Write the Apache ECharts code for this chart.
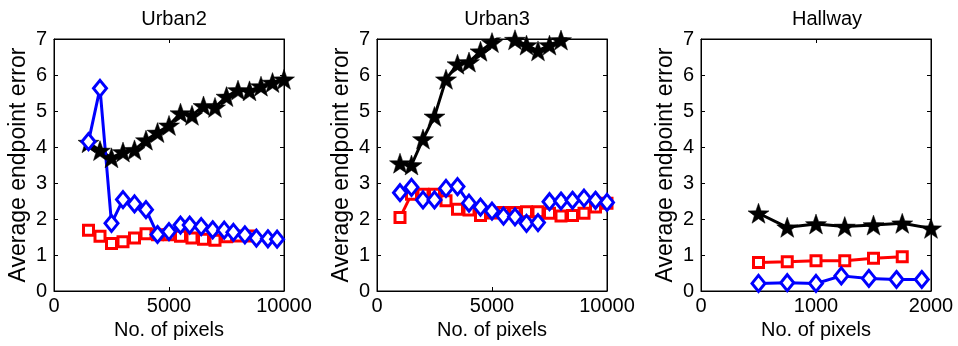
<!DOCTYPE html>
<html>
<head>
<meta charset="utf-8">
<script src="https://cdn.jsdelivr.net/npm/echarts@6/dist/echarts.min.js"></script>
<style>
  html, body { margin: 0; background: #fff; }
  #chart { width: 958px; height: 346px; }
</style>
</head>
<body>
<div id="chart"></div>
<script>
// panel titles and axis names
const panelTitles = ["Urban2", "Urban3", "Hallway"];
const xAxisName = "No. of pixels";
const yAxisName = "Average endpoint error";
const xMaxima = [10000, 10000, 2000];
const xIntervals = [5000, 5000, 1000];

// Urban2
const urban2StarX = [1500, 2000, 2500, 3000, 3500, 4000, 4500, 5000, 5500, 6000, 6500, 7000, 7500, 8000, 8500, 9000, 9500, 10000];
const urban2Star = [4.12, 3.9, 3.7, 3.86, 3.92, 4.19, 4.4, 4.6, 4.94, 4.88, 5.14, 5.1, 5.4, 5.58, 5.56, 5.69, 5.79, 5.88];
const urban2SquareX = [1500, 2000, 2500, 3000, 3500, 4000, 4500, 5000, 5500, 6000, 6500, 7000, 7500, 8000, 8500];
const urban2Square = [1.69, 1.52, 1.32, 1.37, 1.47, 1.59, 1.56, 1.56, 1.52, 1.47, 1.44, 1.41, 1.51, 1.53, 1.53];
const urban2DiamondX = [1500, 2000, 2500, 3000, 3500, 4000, 4500, 5000, 5500, 5900, 6400, 6900, 7400, 7800, 8300, 8800, 9300, 9700];
const urban2Diamond = [4.15, 5.63, 1.88, 2.54, 2.42, 2.26, 1.57, 1.65, 1.83, 1.83, 1.79, 1.7, 1.69, 1.63, 1.56, 1.47, 1.45, 1.44];

// Urban3 (star values above 7 fall outside the axes)
const urban3X = [1000, 1500, 2000, 2500, 3000, 3500, 4000, 4500, 5000, 5500, 6000, 6500, 7000, 7500, 8000, 8500, 9000, 9500, 10000];
const urban3Star = [3.55, 3.5, 4.22, 4.85, 5.88, 6.3, 6.36, 6.66, 6.9, 7.15, 6.98, 6.83, 6.67, 6.83, 6.97, 7.2, 7.3, 7.4, 7.5];
const urban3Square = [2.04, 2.69, 2.69, 2.69, 2.51, 2.27, 2.25, 2.1, 2.17, 2.18, 2.18, 2.2, 2.2, 2.16, 2.08, 2.1, 2.16, 2.33, 2.44];
const urban3Diamond = [2.73, 2.88, 2.53, 2.53, 2.85, 2.9, 2.44, 2.33, 2.22, 2.08, 2.06, 1.88, 1.9, 2.48, 2.5, 2.52, 2.58, 2.52, 2.46];

// Hallway
const hallStarX = [500, 750, 1000, 1250, 1500, 1750, 2000];
const hallStar = [2.16, 1.77, 1.86, 1.79, 1.83, 1.88, 1.74];
const hallSquareX = [500, 750, 1000, 1250, 1500, 1750];
const hallSquare = [0.79, 0.81, 0.84, 0.84, 0.91, 0.95];
const hallDiamondX = [500, 750, 1000, 1220, 1460, 1700, 1920];
const hallDiamond = [0.21, 0.23, 0.21, 0.42, 0.35, 0.32, 0.32];

const FONT = "'Liberation Sans', Arial, sans-serif";
const FONT_SIZE = 20;
const STAR = "path://M0,-10L2.35,-3.24L9.51,-3.09L3.8,1.24L5.88,8.09L0,4L-5.88,8.09L-3.8,1.24L-9.51,-3.09L-2.35,-3.24Z";

const gridLefts = [54, 377, 701];

function pairs(xs, ys) {
  return xs.map((x, i) => [x, ys[i]]);
}

function starSeries(idx, data) {
  return {
    type: "line", xAxisIndex: idx * 2, yAxisIndex: idx * 2, data, clip: true,
    symbol: STAR, symbolSize: 21, symbolKeepAspect: true,
    lineStyle: { color: "#000", width: 3 },
    itemStyle: { color: "#000", borderColor: "#000", borderWidth: 0.5 }
  };
}

function squareSeries(idx, data) {
  return {
    type: "line", xAxisIndex: idx * 2, yAxisIndex: idx * 2, data, clip: true,
    symbol: "rect", symbolSize: 10,
    lineStyle: { color: "#ff0000", width: 3 },
    itemStyle: { color: "#fff", borderColor: "#ff0000", borderWidth: 3 }
  };
}

function diamondSeries(idx, data) {
  return {
    type: "line", xAxisIndex: idx * 2, yAxisIndex: idx * 2, data, clip: true,
    symbol: "diamond", symbolSize: [13, 16],
    lineStyle: { color: "#0000ff", width: 3 },
    itemStyle: { color: "#fff", borderColor: "#0000ff", borderWidth: 3 }
  };
}

const chart = echarts.init(document.getElementById("chart"), null, { renderer: "canvas" });

const grids = gridLefts.map((left) => ({
  left, top: 39, width: 230, height: 252,
  show: true, borderColor: "#000", borderWidth: 1, backgroundColor: "#fff"
}));

const tick = { show: true, inside: true, length: 4, lineStyle: { color: "#000", width: 1 } };
const line = { show: true, onZero: false, lineStyle: { color: "#000", width: 1 } };
const labelText = { color: "#000", fontFamily: FONT, fontSize: FONT_SIZE };
const plain = (v) => String(v);

const xAxes = [];
const yAxes = [];
gridLefts.forEach((_, i) => {
  xAxes.push({
    gridIndex: i, type: "value", min: 0, max: xMaxima[i], interval: xIntervals[i],
    axisLine: line, axisTick: tick, splitLine: { show: false },
    axisLabel: Object.assign({ margin: 5, formatter: plain }, labelText),
    name: xAxisName, nameLocation: "middle", nameGap: 27,
    nameTextStyle: labelText
  });
  xAxes.push({
    gridIndex: i, type: "value", position: "top", min: 0, max: xMaxima[i], interval: xIntervals[i],
    axisLine: line, axisTick: tick, splitLine: { show: false }, axisLabel: { show: false }
  });
  yAxes.push({
    gridIndex: i, type: "value", min: 0, max: 7, interval: 1,
    axisLine: line, axisTick: tick, splitLine: { show: false },
    axisLabel: Object.assign({ margin: 7, formatter: plain }, labelText),
    name: yAxisName, nameLocation: "middle", nameGap: 24, nameRotate: 90,
    nameTextStyle: { color: "#000", fontFamily: FONT, fontSize: 23 }
  });
  yAxes.push({
    gridIndex: i, type: "value", position: "right", min: 0, max: 7, interval: 1,
    axisLine: line, axisTick: tick, splitLine: { show: false }, axisLabel: { show: false }
  });
});

chart.setOption({
  animation: false,
  backgroundColor: "#fff",
  title: panelTitles.map((text, i) => ({
    text, left: gridLefts[i] + 115 + (i === 2 ? 6 : 0), top: 4, textAlign: "center",
    textStyle: { color: "#000", fontFamily: FONT, fontSize: FONT_SIZE, fontWeight: "normal" }
  })),
  grid: grids,
  xAxis: xAxes,
  yAxis: yAxes,
  series: [
    starSeries(0, pairs(urban2StarX, urban2Star)),
    squareSeries(0, pairs(urban2SquareX, urban2Square)),
    diamondSeries(0, pairs(urban2DiamondX, urban2Diamond)),
    starSeries(1, pairs(urban3X, urban3Star)),
    squareSeries(1, pairs(urban3X, urban3Square)),
    diamondSeries(1, pairs(urban3X, urban3Diamond)),
    starSeries(2, pairs(hallStarX, hallStar)),
    squareSeries(2, pairs(hallSquareX, hallSquare)),
    diamondSeries(2, pairs(hallDiamondX, hallDiamond))
  ]
});
</script>
</body>
</html>
